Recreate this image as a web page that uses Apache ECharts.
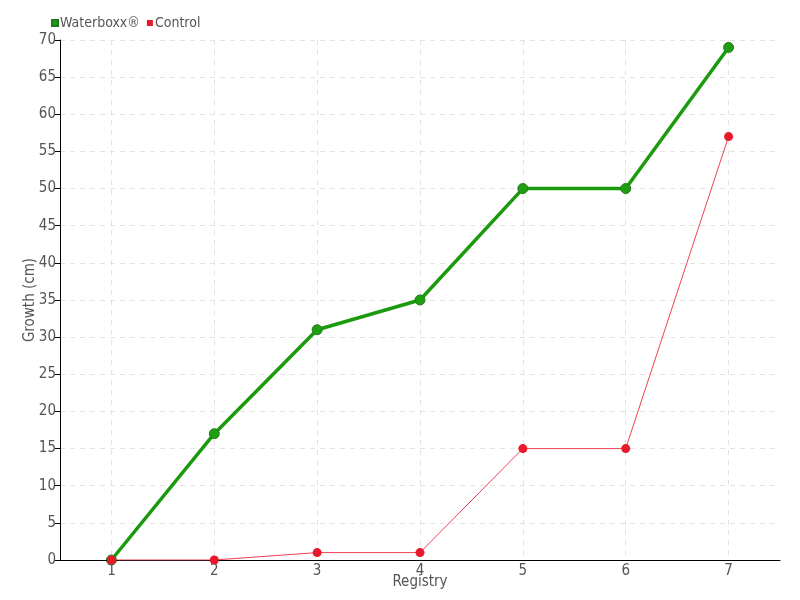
<!DOCTYPE html>
<html>
<head>
<meta charset="utf-8">
<script src="https://cdn.jsdelivr.net/npm/echarts@6/dist/echarts.min.js"></script>
<style>
html,body{margin:0;padding:0;background:#fff;}
#main{width:800px;height:600px;}
</style>
</head>
<body>
<div id="main"></div>
<script>
var registry = ['1', '2', '3', '4', '5', '6', '7'];
var waterboxx = [0, 17, 31, 35, 50, 50, 69];
var control = [0, 0, 1, 1, 15, 15, 57];

var FONT = '"Liberation Sans Narrow", "DejaVu Sans Condensed", sans-serif';
var DASH = {type: [5, 5], color: '#e3e3e3'};

// half-band steps, used only so the vertical grid lines sit on category centres
var halfSteps = [''];
for (var i = 0; i < registry.length; i++) {
    halfSteps.push(registry[i]);
    halfSteps.push('');
}

var myChart = echarts.init(document.getElementById('main'));
var option = {
    animation: false,
    textStyle: {fontFamily: FONT, color: '#555'},
    legend: {
        left: 46,
        top: 11,
        itemWidth: 6,
        itemHeight: 6,
        itemGap: 7,
        icon: 'rect',
        textStyle: {fontFamily: FONT, fontSize: 14, color: '#555', padding: [0, 0, 0, -3]},
        data: ['Waterboxx®', 'Control']
    },
    grid: {left: 60, right: 20, top: 40, bottom: 40, containLabel: false, outerBoundsMode: 'none'},
    xAxis: [
        {
            type: 'category',
            data: registry,
            boundaryGap: true,
            name: 'Registry',
            nameLocation: 'middle',
            nameGap: 15,
            nameMoveOverlap: false,
            nameTextStyle: {fontFamily: FONT, fontSize: 15, color: '#555'},
            axisLine: {lineStyle: {color: '#000', width: 1}},
            axisTick: {alignWithLabel: true, length: 4, lineStyle: {color: '#000'}},
            axisLabel: {fontFamily: FONT, fontSize: 15, color: '#555', margin: 4},
            splitLine: {show: false},
            z: 3
        },
        {
            type: 'category',
            data: halfSteps,
            boundaryGap: false,
            position: 'bottom',
            axisLine: {show: false},
            axisTick: {show: false},
            axisLabel: {show: false},
            splitLine: {
                show: true,
                interval: function (idx) { return idx % 2 === 1; },
                lineStyle: DASH
            }
        }
    ],
    yAxis: {
        type: 'value',
        min: 0,
        max: 70,
        interval: 5,
        name: 'Growth (cm)',
        nameLocation: 'middle',
        nameGap: 22,
        nameMoveOverlap: false,
        nameTextStyle: {fontFamily: FONT, fontSize: 15, color: '#555'},
        axisLine: {show: true, lineStyle: {color: '#000', width: 1}},
        axisTick: {show: true, length: 5, lineStyle: {color: '#000'}},
        axisLabel: {fontFamily: FONT, fontSize: 15, color: '#555', margin: 4},
        splitLine: {show: true, lineStyle: DASH}
    },
    series: [
        {
            name: 'Waterboxx®',
            type: 'line',
            xAxisIndex: 0,
            data: waterboxx,
            symbol: 'circle',
            symbolSize: 10,
            z: 2,
            itemStyle: {color: '#1e9e10', borderColor: '#237a1c', borderWidth: 1},
            lineStyle: {color: '#1c9a0e', width: 3.5}
        },
        {
            name: 'Control',
            type: 'line',
            xAxisIndex: 0,
            data: control,
            symbol: 'circle',
            symbolSize: 9,
            z: 3,
            itemStyle: {color: '#e8192c'},
            lineStyle: {color: '#f04050', width: 1}
        }
    ]
};
myChart.setOption(option);
</script>
</body>
</html>
